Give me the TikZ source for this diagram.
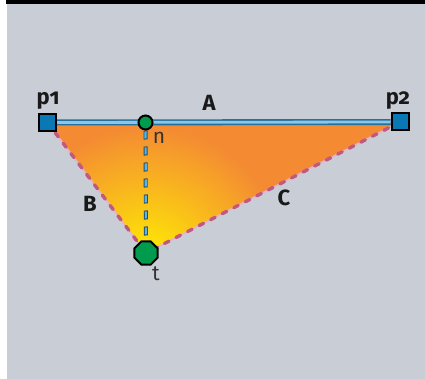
\documentclass[tikz,border=0pt]{standalone}
\usepackage{fontspec}
\setmainfont{Fira Sans}[Numbers=OldStyle]
\usepackage{xcolor}
\usepackage{tikz}
\usetikzlibrary{shapes.geometric}
\definecolor{panelgray}{HTML}{C9CED6}
\definecolor{fillorange}{HTML}{F48B33}
\definecolor{fillyellow}{HTML}{FFF200}
\definecolor{pointblue}{HTML}{0A78B4}
\definecolor{pointgreen}{HTML}{009B4C}
\definecolor{edgepink}{HTML}{C2587E}
\definecolor{edgelight}{HTML}{E2B4CA}
\definecolor{linedark}{HTML}{22719F}
\definecolor{linelight}{HTML}{8EC4E4}
\definecolor{dashlight}{HTML}{5AB4E0}
\definecolor{dashdark}{HTML}{23506F}
\pgfdeclarelayer{background}
\pgfsetlayers{background,main}
\tikzset{
  endpoint/.style={draw=black,fill=pointblue,line width=2pt,minimum size=17pt,
    inner sep=0pt},
  footpoint/.style={circle,draw=black,fill=pointgreen,line width=2pt,
    minimum size=14pt,inner sep=0pt},
  targetpoint/.style={regular polygon,regular polygon sides=8,draw=black,
    fill=pointgreen,line width=2pt,minimum size=25pt,inner sep=0pt},
  sidelabel/.style={font=\fontsize{22}{24}\selectfont\bfseries,text=black!90},
  pointlabel/.style={font=\fontsize{21}{23}\selectfont,text=black!80},
  baseline/.style={line width=1.6pt,draw=linedark,double=linelight,double distance=2.8pt},
  edgebase/.style={line width=1.6pt,draw=edgelight},
  edgedash/.style={line width=3.4pt,draw=edgepink,line cap=round,
    dash pattern=on 5pt off 8pt},
  normalbase/.style={line width=4pt,draw=dashdark,dash pattern=on 9pt off 7pt},
  normaldash/.style={line width=2.2pt,draw=dashlight,dash pattern=on 7pt off 9pt,
    dash phase=-1pt}
}
\begin{document}
\begin{tikzpicture}[x=1pt,y=-1pt]
  \useasboundingbox (0,0) rectangle (425,379);
  \node[endpoint] (p1) at (47.5,122.5) {};
  \node[endpoint] (p2) at (400,122) {};
  \node[footpoint] (n) at (145.5,122.5) {};
  \node[targetpoint] (t) at (146,253) {};
  \node[sidelabel] (lp1) at (48,101) {p1};
  \node[sidelabel] (lp2) at (398,101) {p2};
  \node[sidelabel] (la) at (209,103) {A};
  \node[sidelabel] (lb) at (90,204) {B};
  \node[sidelabel] (lc) at (284,198) {C};
  \node[pointlabel] (ln) at (159,138) {n};
  \node[pointlabel] (lt) at (156,274) {t};
  \begin{pgfonlayer}{background}
    \fill[panelgray] (7,4) rectangle (425,379);
    \fill[black] (6,0) rectangle (425,4);
    % triangle with glow round t
    \begin{scope}
      \clip (p1.center) -- (p2.center) -- (t.center) -- cycle;
      \fill[fillorange] (p1.center) -- (p2.center) -- (t.center) -- cycle;
      \shade[inner color=fillyellow,outer color=fillorange]
        ([yshift=-14pt]t.center) circle (140);
    \end{scope}
    \draw[edgebase] (p1.center) -- (t.center) -- (p2.center);
    \draw[edgedash] (p1.center) -- (t.center);
    \draw[edgedash] (p2.center) -- (t.center);
    \draw[baseline] (p1) -- (p2);
    \draw[normalbase] (n) -- (t);
    \draw[normaldash] (n) -- (t);
  \end{pgfonlayer}
\end{tikzpicture}
\end{document}
